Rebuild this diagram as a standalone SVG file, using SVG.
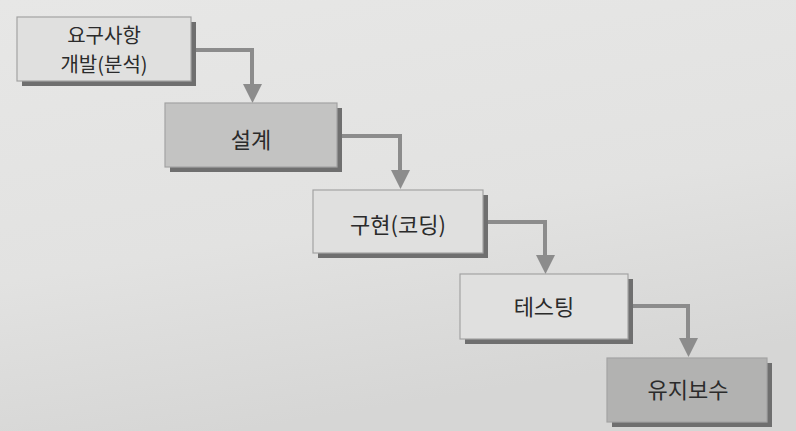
<svg xmlns="http://www.w3.org/2000/svg" width="796" height="431" viewBox="0 0 796 431">
<defs>
<linearGradient id="bg" x1="0" y1="0" x2="0.3" y2="1">
<stop offset="0" stop-color="#e7e7e6"/>
<stop offset="0.6" stop-color="#e2e2e1"/>
<stop offset="1" stop-color="#d6d6d5"/>
</linearGradient>
</defs>
<style>
.shadow{fill:#6f6f6f}
.box{stroke:#a3a3a3;stroke-width:1.2}
.light{fill:#e0e0df}
.mid{fill:#c3c3c2}
.dark{fill:#b2b2b1}
.lbl{font-family:"Noto Sans CJK KR","Noto Sans",sans-serif;font-size:22px;fill:#2b2b2b;text-anchor:middle}
.sm{font-size:20px}
.conn{fill:none;stroke:#8c8c8c;stroke-width:4}
.head{fill:#8c8c8c}
</style>
<rect width="796" height="431" fill="url(#bg)"/>
<g id="connectors">
<polyline class="conn" points="191,50 252,50 252,86"/>
<polygon class="head" points="243,84 262,84 252.5,103"/>
<polyline class="conn" points="337,136 400,136 400,172"/>
<polygon class="head" points="391,170 410,170 400.5,189"/>
<polyline class="conn" points="483,222 545,222 545,257"/>
<polygon class="head" points="536,255 555,255 545.5,274"/>
<polyline class="conn" points="628,306 688,306 688,340"/>
<polygon class="head" points="679,338 698,338 688.5,357"/>
</g>
<g id="node1">
<rect class="shadow" x="22" y="22" width="174" height="64"/>
<rect class="box light" x="17" y="17" width="174" height="64"/>
<text class="lbl sm" x="104" y="43">요구사항</text>
<text class="lbl sm" x="104" y="72">개발(분석)</text>
</g>
<g id="node2">
<rect class="shadow" x="170" y="108" width="172" height="64"/>
<rect class="box mid" x="165" y="103" width="172" height="64"/>
<text class="lbl" x="251" y="148">설계</text>
</g>
<g id="node3">
<rect class="shadow" x="318" y="195" width="170" height="63"/>
<rect class="box light" x="313" y="190" width="170" height="63"/>
<text class="lbl" x="398" y="233">구현(코딩)</text>
</g>
<g id="node4">
<rect class="shadow" x="465" y="279" width="168" height="65"/>
<rect class="box light" x="460" y="274" width="168" height="65"/>
<text class="lbl" x="544" y="315">테스팅</text>
</g>
<g id="node5">
<rect class="shadow" x="612" y="363" width="160" height="64"/>
<rect class="box dark" x="607" y="358" width="160" height="64"/>
<text class="lbl" x="688" y="398">유지보수</text>
</g>
</svg>
